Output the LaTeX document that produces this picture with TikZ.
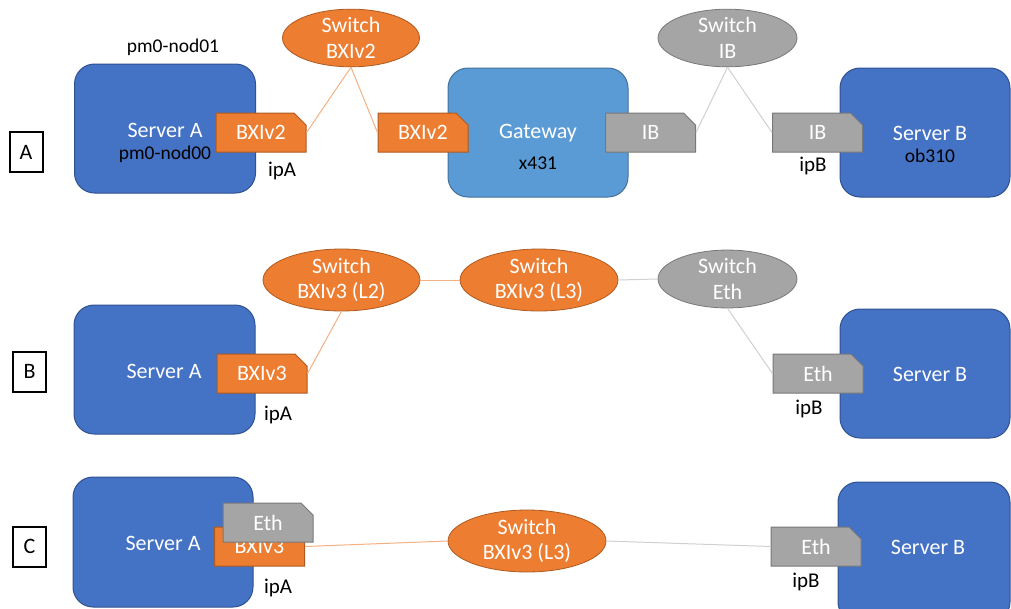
\documentclass[tikz,border=0pt]{standalone}
\usepackage{fontspec}
\setmainfont{Carlito}
\usetikzlibrary{shapes.geometric,shapes.misc}
\definecolor{srvblue}{HTML}{4472C4}
\definecolor{srvline}{HTML}{2F528F}
\definecolor{gwblue}{HTML}{5B9BD5}
\definecolor{gwline}{HTML}{41719C}
\definecolor{bxorange}{HTML}{ED7D31}
\definecolor{bxline}{HTML}{AE5A21}
\definecolor{ibgray}{HTML}{A5A5A5}
\definecolor{ibline}{HTML}{787878}
\definecolor{linkorange}{HTML}{F4B183}
\definecolor{linkgray}{HTML}{D0D0D0}

\tikzset{
  srvbox/.style={draw=srvline, line width=1pt, rounded corners=20pt, inner sep=0pt},
  server/.style={srvbox, fill=srvblue},
  gateway/.style={srvbox, fill=gwblue, draw=gwline},
  bigfont/.style={font=\fontsize{22}{25.5}\selectfont},
  smallfont/.style={font=\fontsize{19.5}{23}\selectfont},
  whitetxt/.style={bigfont, text=white, inner sep=0pt},
  blacktxt/.style={smallfont, text=black, inner sep=0pt},
  iplabel/.style={font=\fontsize{21}{24}\selectfont, text=black, inner sep=0pt},
  port/.style={chamfered rectangle, chamfered rectangle corners=north east,
    chamfered rectangle xsep=6pt, chamfered rectangle ysep=6pt,
    minimum width=90pt, minimum height=39pt, inner sep=0pt, line width=1pt,
    bigfont, text=white},
  bxport/.style={port, fill=bxorange, draw=bxline},
  ibport/.style={port, fill=ibgray, draw=ibline},
  switch/.style={ellipse, inner sep=0pt, line width=0.8pt, bigfont,
    text=white, align=center},
  bxswitch/.style={switch, fill=bxorange, draw=bxline},
  ibswitch/.style={switch, fill=ibgray, draw=ibline},
  bxlink/.style={draw=linkorange, line width=1pt},
  iblink/.style={draw=linkgray, line width=1pt},
  rowtag/.style={draw=black, line width=2pt, minimum width=33pt,
    minimum height=40pt, inner sep=0pt, bigfont}
}

\begin{document}
\begin{tikzpicture}[x=1pt, y=-1pt]
  \clip (0,0) rectangle (1011,608);

  % ---------------- Row A : BXIv2 -> gateway -> IB ----------------
  \node[rowtag] (tagA) at (26,152) {A};
  \node[server, minimum width=181pt, minimum height=129pt] (srvA1) at (165,128.5) {};
  \node[blacktxt] (nameA1top) at (173,47) {pm0-nod01};
  \node[whitetxt] (txtA1) at (165,130) {Server A};
  \node[blacktxt] (nameA1) at (165,154) {pm0-nod00};
  \node[bxport] (portA1) at (261,132.5) {BXIv2};
  \node[iplabel] (ipA1) at (282,171) {ipA};

  \node[gateway, minimum width=180pt, minimum height=129pt] (gw) at (538,132.5) {};
  \node[whitetxt] (txtGw) at (538,133) {Gateway};
  \node[blacktxt] (nameGw) at (538,163) {x431};
  \node[bxport] (gwBx) at (423,132.5) {BXIv2};
  \node[ibport] (gwIb) at (650.5,132.5) {IB};

  \node[server, minimum width=170pt, minimum height=129pt] (srvB1) at (925,132.5) {};
  \node[whitetxt] (txtB1) at (930,133) {Server B};
  \node[blacktxt] (nameB1) at (930,156) {ob310};
  \node[ibport] (portB1) at (817.5,132.5) {IB};
  \node[iplabel] (ipB1) at (813,166) {ipB};

  \node[bxswitch, minimum width=137pt, minimum height=50pt] (swBx2) at (351,38) {Switch\\BXIv2};
  \node[ibswitch, minimum width=139pt, minimum height=50pt] (swIb) at (727.5,38) {Switch\\IB};

  \draw[bxlink] (swBx2.south) -- (portA1.east);
  \draw[bxlink] (swBx2.south) -- (gwBx.west);
  \draw[iblink] (swIb.south) -- (gwIb.east);
  \draw[iblink] (swIb.south) -- (portB1.west);

  % ---------------- Row B : BXIv3 L2 -> L3 -> Eth ----------------
  \node[rowtag] (tagB) at (29.5,371.5) {B};
  \node[server, minimum width=181pt, minimum height=129pt] (srvA2) at (164.5,369.5) {};
  \node[whitetxt] (txtA2) at (164,371) {Server A};
  \node[bxport] (portA2) at (262,373.5) {BXIv3};
  \node[iplabel] (ipA2) at (278,415) {ipA};

  \node[server, minimum width=170pt, minimum height=129pt] (srvB2) at (925,373.5) {};
  \node[whitetxt] (txtB2) at (930,374) {Server B};
  \node[ibport] (portB2) at (818,373.5) {Eth};
  \node[iplabel] (ipB2) at (809,409) {ipB};

  \node[bxswitch, minimum width=157pt, minimum height=50pt] (swL2) at (341.5,280) {Switch\\BXIv3 (L2)};
  \node[bxswitch, minimum width=158pt, minimum height=50pt] (swL3b) at (539,280) {Switch\\BXIv3 (L3)};
  \node[ibswitch, minimum width=139pt, minimum height=51pt] (swEth) at (727.5,279) {Switch\\Eth};

  \draw[bxlink] (swL2.south) -- (portA2.east);
  \draw[bxlink] (swL2.east) -- (swL3b.west);
  \draw[iblink] (swL3b.east) -- (swEth.west);
  \draw[iblink] (swEth.south) -- (portB2.west);

  % ---------------- Row C : BXIv3 L3 -> Eth ----------------
  \node[rowtag] (tagC) at (29.5,546.5) {C};
  \node[server, minimum width=180pt, minimum height=130pt] (srvA3) at (163,542) {};
  \node[whitetxt] (txtA3) at (163,543) {Server A};
  \node[bxport, chamfered rectangle xsep=0.01pt, chamfered rectangle ysep=0.01pt] (portA3) at (259.5,546.5) {BXIv3};
  \node[ibport] (ethA3) at (268,522.5) {Eth};
  \node[iplabel] (ipA3) at (278,588) {ipA};

  \node[server, minimum width=172pt, minimum height=140pt] (srvB3) at (924,552) {};
  \node[whitetxt] (txtB3) at (928,547) {Server B};
  \node[ibport] (portB3) at (816,546.5) {Eth};
  \node[iplabel] (ipB3) at (806,582) {ipB};

  \node[bxswitch, minimum width=158pt, minimum height=52pt] (swL3c) at (527,541) {Switch\\BXIv3 (L3)};

  \draw[bxlink] (portA3.east) -- (swL3c.west);
  \draw[iblink] (swL3c.east) -- (portB3.west);
\end{tikzpicture}
\end{document}
